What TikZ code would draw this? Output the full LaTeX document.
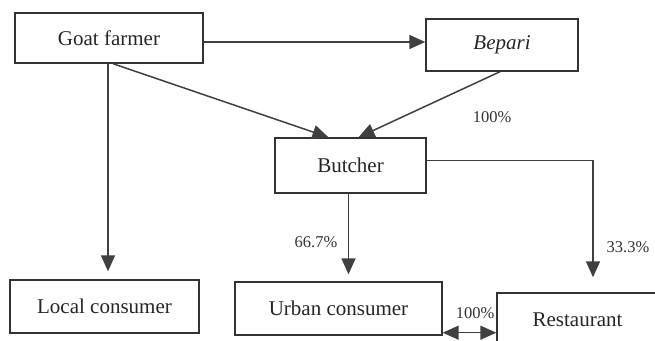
\documentclass[tikz,border=0pt]{standalone}
\usepackage{fontspec}
\setmainfont{Liberation Serif}
\usetikzlibrary{arrows.meta,calc}
\begin{document}
\begin{tikzpicture}[x=1pt,y=-1pt,
  box/.style={draw=black!80,line width=1.4pt,inner sep=0pt,font=\fontsize{21}{24}\selectfont,text=black!85},
  tip/.tip={Triangle[length=16pt,width=14pt]},
  conn/.style={draw=black!75,line width=1.5pt,-tip,color=black!75},
  pct/.style={font=\fontsize{16.5}{19}\selectfont,text=black!80}]
\clip (0,0) rectangle (655,340);
\fill[white] (0,0) rectangle (655,340);
\node[box,minimum width=188pt,minimum height=50pt] (gf) at (109,38) {Goat farmer};
\node[box,minimum width=152pt,minimum height=52pt] (bep) at (502,45) {\itshape Bepari};
\node[box,minimum width=151pt,minimum height=55pt] (but) at (350.5,165.5) {Butcher};
\node[box,minimum width=189pt,minimum height=53pt] (loc) at (104.5,306.5) {Local consumer};
\node[box,minimum width=207pt,minimum height=53pt] (urb) at (338.5,308.5) {Urban consumer};
\node[box,minimum width=163pt,minimum height=53pt] (res) at (578.5,319.5) {\hspace*{-2pt}Restaurant};
% connectors
\draw[conn] ([yshift=-4pt]gf.east) -- ([yshift=-4pt]gf.east -| bep.west);
\draw[conn] ([xshift=4pt]gf.south) -- ([xshift=-22pt]but.north);
\draw[conn,shorten >=8pt] ([xshift=-1pt]gf.south) -- ([xshift=-1pt]gf.south |- loc.north);
\draw[conn] ([xshift=-2pt]bep.south) -- ([xshift=8pt]but.north);
\draw[conn,shorten >=7pt] ([xshift=-2pt]but.south) -- ([xshift=-2pt]but.south |- urb.north);
\draw[conn,shorten >=15pt] ([yshift=5pt]but.east) -| ([xshift=14.5pt]res.north);
\draw[conn,tip-tip] ([yshift=3pt]urb.south east) -- ([yshift=3pt]urb.south east -| res.west);
% labels
\node[pct] (p1) at (492,117) {100\%};
\node[pct] (p2) at (316,242) {66.7\%};
\node[pct] (p3) at (628,247) {33.3\%};
\node[pct] (p4) at (475,313) {100\%};
\end{tikzpicture}
\end{document}
